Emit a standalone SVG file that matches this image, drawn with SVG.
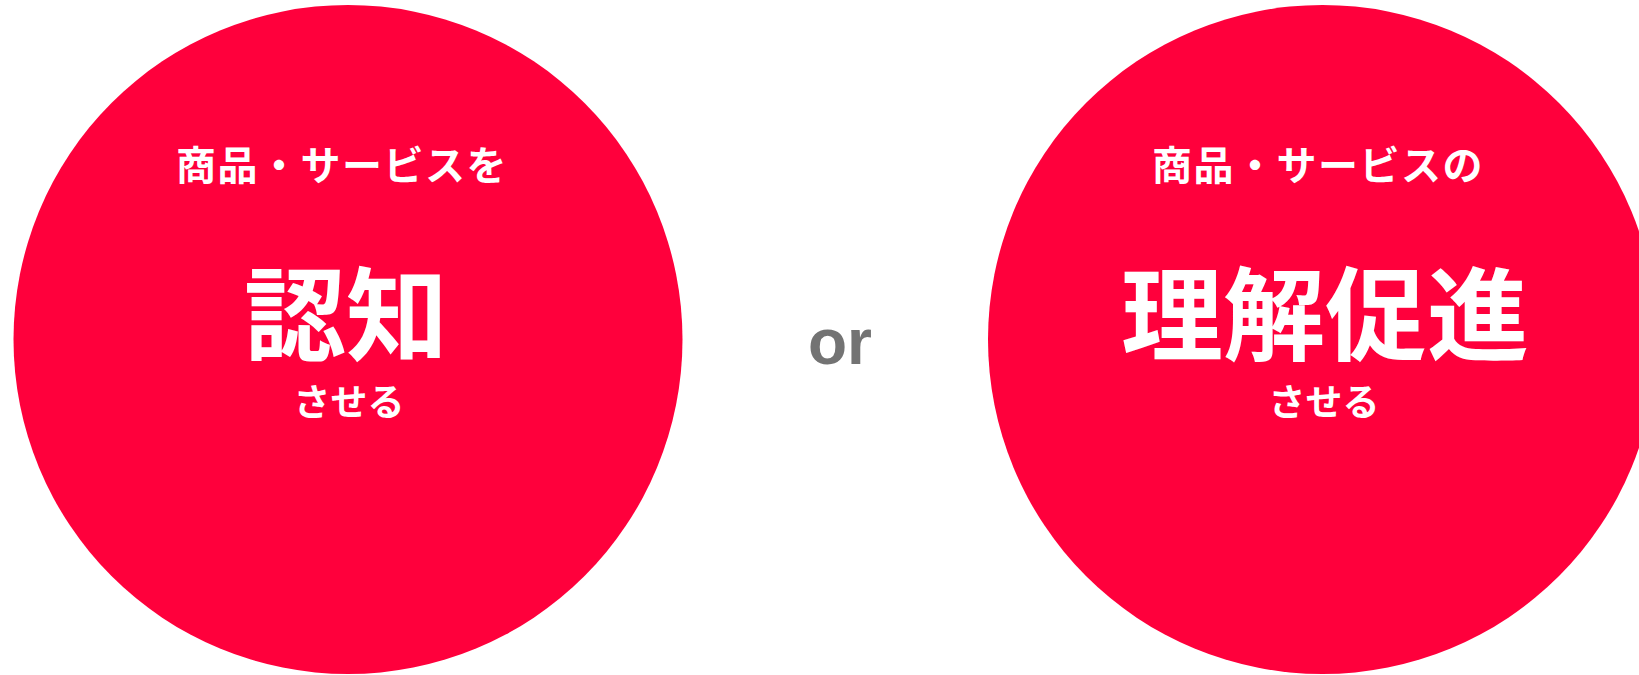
<svg xmlns="http://www.w3.org/2000/svg" width="1639" height="675" viewBox="0 0 1639 675">
<style>
.c{fill:#FF003C}
.t{fill:#FFFFFF;font-family:"Noto Sans CJK JP","Noto Sans CJK SC",sans-serif;text-anchor:middle;dominant-baseline:central}
.s{font-size:40px;font-weight:700;letter-spacing:1.5px}
.b{font-size:102px;font-weight:700}
.k{font-size:37px;font-weight:700}
.or{fill:#737373;font-family:"Liberation Sans",Arial,sans-serif;font-weight:700;font-size:64px;text-anchor:middle}
</style>
<rect width="1639" height="675" fill="#FFFFFF"/>
<g id="node-left">
<circle class="c" cx="348" cy="339.5" r="334.5"/>
<text class="t s" x="342" y="163">商品・サービスを</text>
<text class="t b" x="346" y="308">認知</text>
<text class="t k" x="349" y="400">させる</text>
</g>
<g id="node-or">
<text class="or" x="840" y="364">or</text>
</g>
<g id="node-right">
<circle class="c" cx="1322.5" cy="339.5" r="334.5"/>
<text class="t s" x="1318" y="163">商品・サービスの</text>
<text class="t b" x="1325" y="308">理解促進</text>
<text class="t k" x="1324" y="400">させる</text>
</g>
<g id="connectors"></g>
</svg>
